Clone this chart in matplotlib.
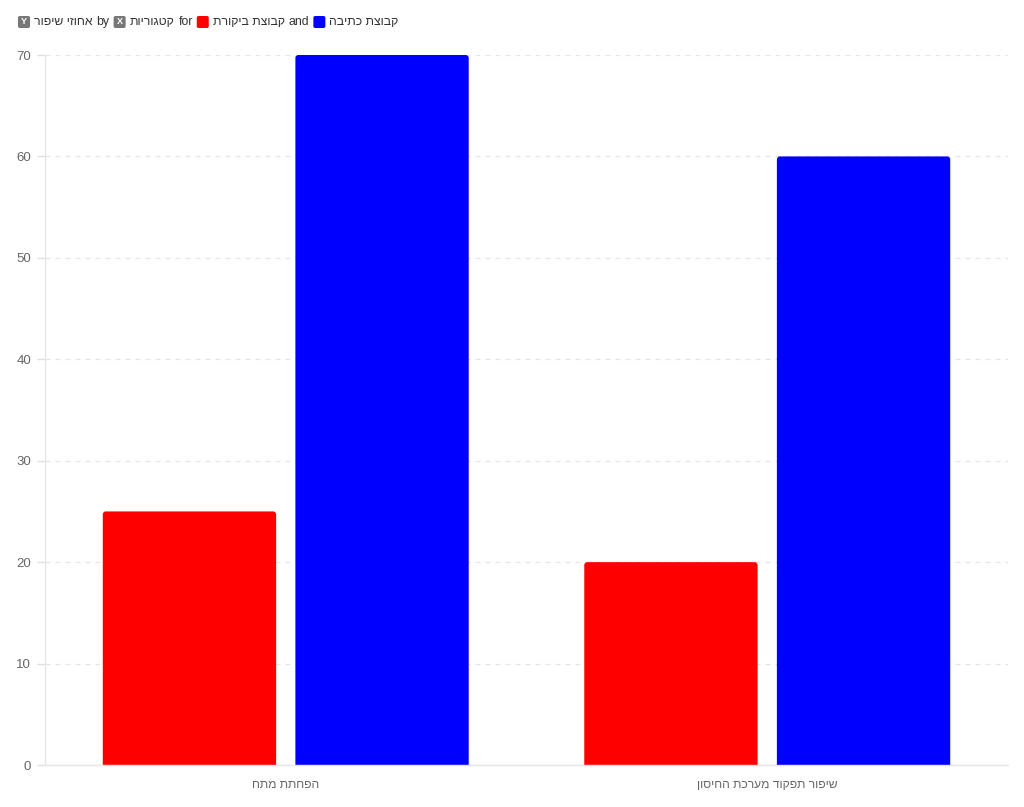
import matplotlib
matplotlib.use("Agg")
import matplotlib.pyplot as plt
import numpy as np
from matplotlib.patches import FancyBboxPatch

plt.rcParams['font.family'] = ['Liberation Sans', 'DejaVu Sans']

categories = ["הפחתת מתח", "שיפור תפקוד מערכת החיסון"]
series_names = ["קבוצת ביקורת", "קבוצת כתיבה"]
control_values = [25, 20]
writing_values = [70, 60]
colors = ["#ff0000", "#0000ff"]
y_label = "אחוזי שיפור"
x_label = "קטגוריות"
y_ticks = [0, 10, 20, 30, 40, 50, 60, 70]


def vis(s):
    # matplotlib has no bidi support: reverse Hebrew strings for display
    return s[::-1]


fig = plt.figure(figsize=(10.24, 8.07), dpi=100)
ax = fig.add_axes([45 / 1024, 42 / 807, 963 / 1024, 710 / 807])

x = np.arange(len(categories))
bw = 0.36
off = 0.2
ax.set_xlim(-0.5, 1.5)
ax.set_ylim(0, 70)

bars = [ax.bar(x - off, control_values, bw, color=colors[0], linewidth=0, zorder=3),
        ax.bar(x + off, writing_values, bw, color=colors[1], linewidth=0, zorder=3)]

# replace bar rectangles with top-rounded versions (bottom extends below the axis and is clipped)
x_per_px = 2 / 963
y_per_px = 70 / 710
for cont in bars:
    for rect in cont:
        rx, ry = rect.get_x(), rect.get_y()
        w, h = rect.get_width(), rect.get_height()
        rect.set_visible(False)
        p = FancyBboxPatch((rx, ry - 1), w, h + 1,
                           boxstyle="round,pad=0,rounding_size=%f" % (3 * x_per_px),
                           mutation_aspect=y_per_px / x_per_px,
                           facecolor=rect.get_facecolor(), edgecolor='none', zorder=3)
        ax.add_patch(p)

ax.set_yticks(y_ticks)
ax.set_xticks(x)
ax.set_xticklabels([vis(c) for c in categories])
ax.grid(axis='y', color='#e6e6e6', linestyle=(0, (4, 4)), linewidth=0.9, zorder=0)
for s in ['top', 'right']:
    ax.spines[s].set_visible(False)
for s in ['left', 'bottom']:
    ax.spines[s].set_color('#e6e6e6')
    ax.spines[s].set_linewidth(1)
    ax.spines[s].set_zorder(4)
ax.tick_params(axis='y', colors='#e0e0e0', labelcolor='#666666', labelsize=9.5, length=6, width=1, pad=4)
ax.tick_params(axis='x', length=0, labelcolor='#666666', labelsize=8.7, pad=10)

# legend-like header built from pieces, left to right
items = [("box", "#777777", "Y"), ("text", vis(y_label)), ("text", "by"),
         ("box", "#777777", "X"), ("text", vis(x_label)), ("text", "for"),
         ("box", colors[0], ""), ("text", vis(series_names[0])), ("text", "and"),
         ("box", colors[1], ""), ("text", vis(series_names[1]))]

fig.canvas.draw()
renderer = fig.canvas.get_renderer()
xpix = 18
ypix = 807 - 22
box = 12
for it in items:
    if it[0] == "box":
        r = FancyBboxPatch((xpix / 1024, (ypix - box / 2) / 807), box / 1024, box / 807,
                           boxstyle="round,pad=0,rounding_size=0.002",
                           transform=fig.transFigure, facecolor=it[1], edgecolor='none')
        fig.add_artist(r)
        if it[2]:
            fig.text((xpix + box / 2) / 1024, ypix / 807, it[2], color='white', fontsize=6.5,
                     fontweight='bold', ha='center', va='center')
        xpix += box + 4
    else:
        t = fig.text(xpix / 1024, ypix / 807, it[1], fontsize=8.8, color='#333333',
                     ha='left', va='center')
        w = t.get_window_extent(renderer).width
        xpix += w + 4

fig.savefig("out.png", dpi=100)
